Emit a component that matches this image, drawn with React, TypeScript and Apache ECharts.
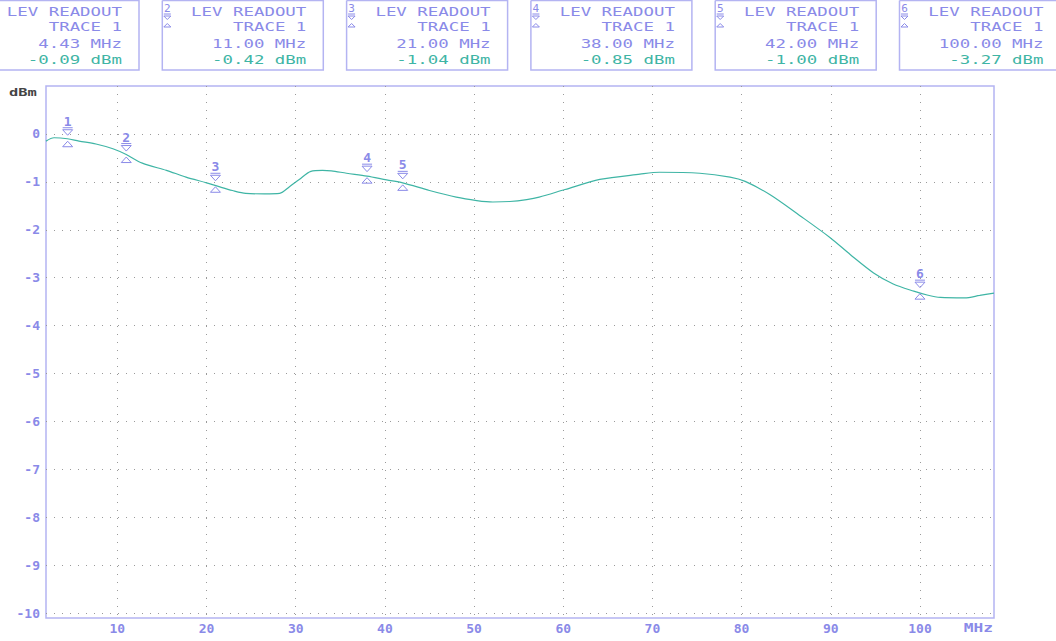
import React, { useEffect, useRef } from "react";
import * as echarts from "echarts";

// Trace data (MHz, dBm)
const traceFreq = [2.0, 2.9, 4.4, 5.7, 7.6, 9.5, 11.0, 12.8, 15.5, 17.7, 20.0, 21.4, 22.9, 24.4, 26.5, 28.2, 29.3, 30.4, 31.7, 33.0, 34.0, 35.7, 38.0, 40.2, 42.0, 45.0, 48.0, 50.3, 52.1, 54.0, 55.9, 57.3, 60.2, 64.1, 68.6, 70.8, 75.3, 78.7, 80.4, 83.2, 86.5, 89.9, 92.2, 94.8, 97.0, 99.3, 100.8, 102.3, 105.0, 106.7, 108.3];
const traceLevel = [-0.15, -0.08, -0.10, -0.15, -0.21, -0.31, -0.43, -0.61, -0.76, -0.90, -1.02, -1.10, -1.18, -1.24, -1.25, -1.24, -1.10, -0.95, -0.78, -0.76, -0.77, -0.82, -0.88, -0.96, -1.02, -1.18, -1.32, -1.39, -1.42, -1.41, -1.37, -1.32, -1.16, -0.95, -0.84, -0.80, -0.82, -0.90, -0.99, -1.27, -1.70, -2.16, -2.52, -2.90, -3.13, -3.28, -3.36, -3.41, -3.42, -3.37, -3.32];

// Markers
const markerNum = [1, 2, 3, 4, 5, 6];
const markerFreq = [4.43, 11.0, 21.0, 38.0, 42.0, 100.0];
const markerLevel = [-0.09, -0.42, -1.04, -0.85, -1.0, -3.27];

// Tick labels
const xTicks = [10, 20, 30, 40, 50, 60, 70, 80, 90, 100];
const yTicks = [0, -1, -2, -3, -4, -5, -6, -7, -8, -9, -10];

const BLUE = "#8a8ae8";
const TEAL = "#3fb5a5";
const BORDER = "#b4b4f2";
const MONO = '"DejaVu Sans Mono", monospace';

export default function App() {
  const ref = useRef<HTMLDivElement>(null);
  useEffect(() => {
    document.body.style.margin = "0";
    if (!ref.current) return;
    const chart = echarts.init(ref.current, null, { renderer: "svg" });

    const graphics: any[] = [];
    // Readout boxes
    markerNum.forEach((n, i) => {
      const left = -22 + 184.3 * i;
      const right = left + 161;
      graphics.push({
        type: "polyline",
        shape: { points: [[left, 0.5], [right, 0.5], [right, 70], [left, 70], [left, 0.5]] },
        style: { stroke: BORDER, fill: "none", lineWidth: 1.5 },
      });
      const tx = left + 144;
      const txt = (text: string, y: number, color: string) => ({
        type: "text",
        x: tx,
        y,
        scaleX: 1.45,
        style: { text, font: `12px ${MONO}`, fill: color, align: "right", verticalAlign: "middle" },
      });
      graphics.push(txt("LEV READOUT", 11.5, BLUE));
      graphics.push(txt("TRACE 1", 27, BLUE));
      graphics.push(txt(markerFreq[i].toFixed(2) + " MHz", 43.5, BLUE));
      graphics.push(txt(markerLevel[i].toFixed(2) + " dBm", 60, TEAL));
      // marker symbol (the first box's one lies off the page in the reference)
      if (left + 5 > 0) {
        const mx = left + 5;
        graphics.push({
          type: "text",
          x: mx,
          y: 8.5,
          style: { text: String(n), font: `11px ${MONO}`, fill: BLUE, align: "center", verticalAlign: "middle" },
        });
        graphics.push({
          type: "line",
          shape: { x1: mx - 3.5, y1: 14, x2: mx + 3.5, y2: 14 },
          style: { stroke: BLUE, lineWidth: 1 },
        });
        graphics.push({
          type: "polygon",
          shape: { points: [[mx - 3.5, 16], [mx + 3.5, 16], [mx, 19.5]] },
          style: { stroke: BLUE, fill: "none", lineWidth: 1 },
        });
        graphics.push({
          type: "polygon",
          shape: { points: [[mx - 3.5, 27], [mx + 3.5, 27], [mx, 23.5]] },
          style: { stroke: BLUE, fill: "none", lineWidth: 1 },
        });
      }
    });
    graphics.push({
      type: "text",
      x: 9,
      y: 92,
      scaleX: 1.4,
      style: { text: "dBm", font: `bold 11px ${MONO}`, fill: "#444", align: "left", verticalAlign: "middle" },
    });
    graphics.push({
      type: "text",
      x: 993,
      y: 628,
      scaleX: 1.35,
      style: { text: "MHz", font: `bold 12px ${MONO}`, fill: BLUE, align: "right", verticalAlign: "middle" },
    });

    const dotted = { color: "#9a9a9a", type: [1, 7], width: 1 };

    chart.setOption({
      animation: false,
      backgroundColor: "#ffffff",
      grid: {
        left: 46,
        top: 86,
        width: 948,
        height: 532,
        show: true,
        borderColor: BORDER,
        borderWidth: 1.5,
        backgroundColor: "transparent",
      },
      xAxis: {
        type: "value",
        min: 2,
        max: 108.3,
        axisLine: { show: false },
        axisTick: { show: false, customValues: xTicks },
        axisLabel: {
          customValues: xTicks,
          color: BLUE,
          fontFamily: MONO,
          fontSize: 13,
          fontWeight: "bold",
          margin: 4,
        },
        splitLine: { show: true, lineStyle: dotted },
      },
      yAxis: {
        type: "value",
        min: -10.1,
        max: 1.0,
        axisLine: { show: false },
        axisTick: { show: false, customValues: yTicks },
        axisLabel: {
          customValues: yTicks,
          color: BLUE,
          fontFamily: MONO,
          fontSize: 13,
          fontWeight: "bold",
          margin: 6,
        },
        splitLine: { show: true, lineStyle: dotted },
      },
      series: [
        {
          type: "line",
          data: traceFreq.map((f, i) => [f, traceLevel[i]]),
          smooth: 0.3,
          showSymbol: false,
          lineStyle: { color: TEAL, width: 1.2 },
          z: 3,
        },
        {
          type: "custom",
          data: markerFreq.map((f, i) => [f, markerLevel[i], markerNum[i]]),
          z: 4,
          renderItem: (params: any, api: any) => {
            const [x, y] = api.coord([api.value(0), api.value(1)]);
            const c = BLUE;
            return {
              type: "group",
              children: [
                {
                  type: "text",
                  x,
                  y: y - 17,
                  style: { text: String(api.value(2)), font: `bold 13px ${MONO}`, fill: c, align: "center", verticalAlign: "middle" },
                },
                { type: "line", shape: { x1: x - 5, y1: y - 10.5, x2: x + 5, y2: y - 10.5 }, style: { stroke: c, lineWidth: 1 } },
                { type: "polygon", shape: { points: [[x - 5, y - 8.5], [x + 5, y - 8.5], [x, y - 3]] }, style: { stroke: c, fill: "none", lineWidth: 1 } },
                { type: "polygon", shape: { points: [[x - 5, y + 8.5], [x + 5, y + 8.5], [x, y + 3]] }, style: { stroke: c, fill: "none", lineWidth: 1 } },
              ],
            };
          },
        },
      ],
      graphic: graphics,
    });
    return () => chart.dispose();
  }, []);
  return <div ref={ref} style={{ width: 1056, height: 641 }} />;
}
